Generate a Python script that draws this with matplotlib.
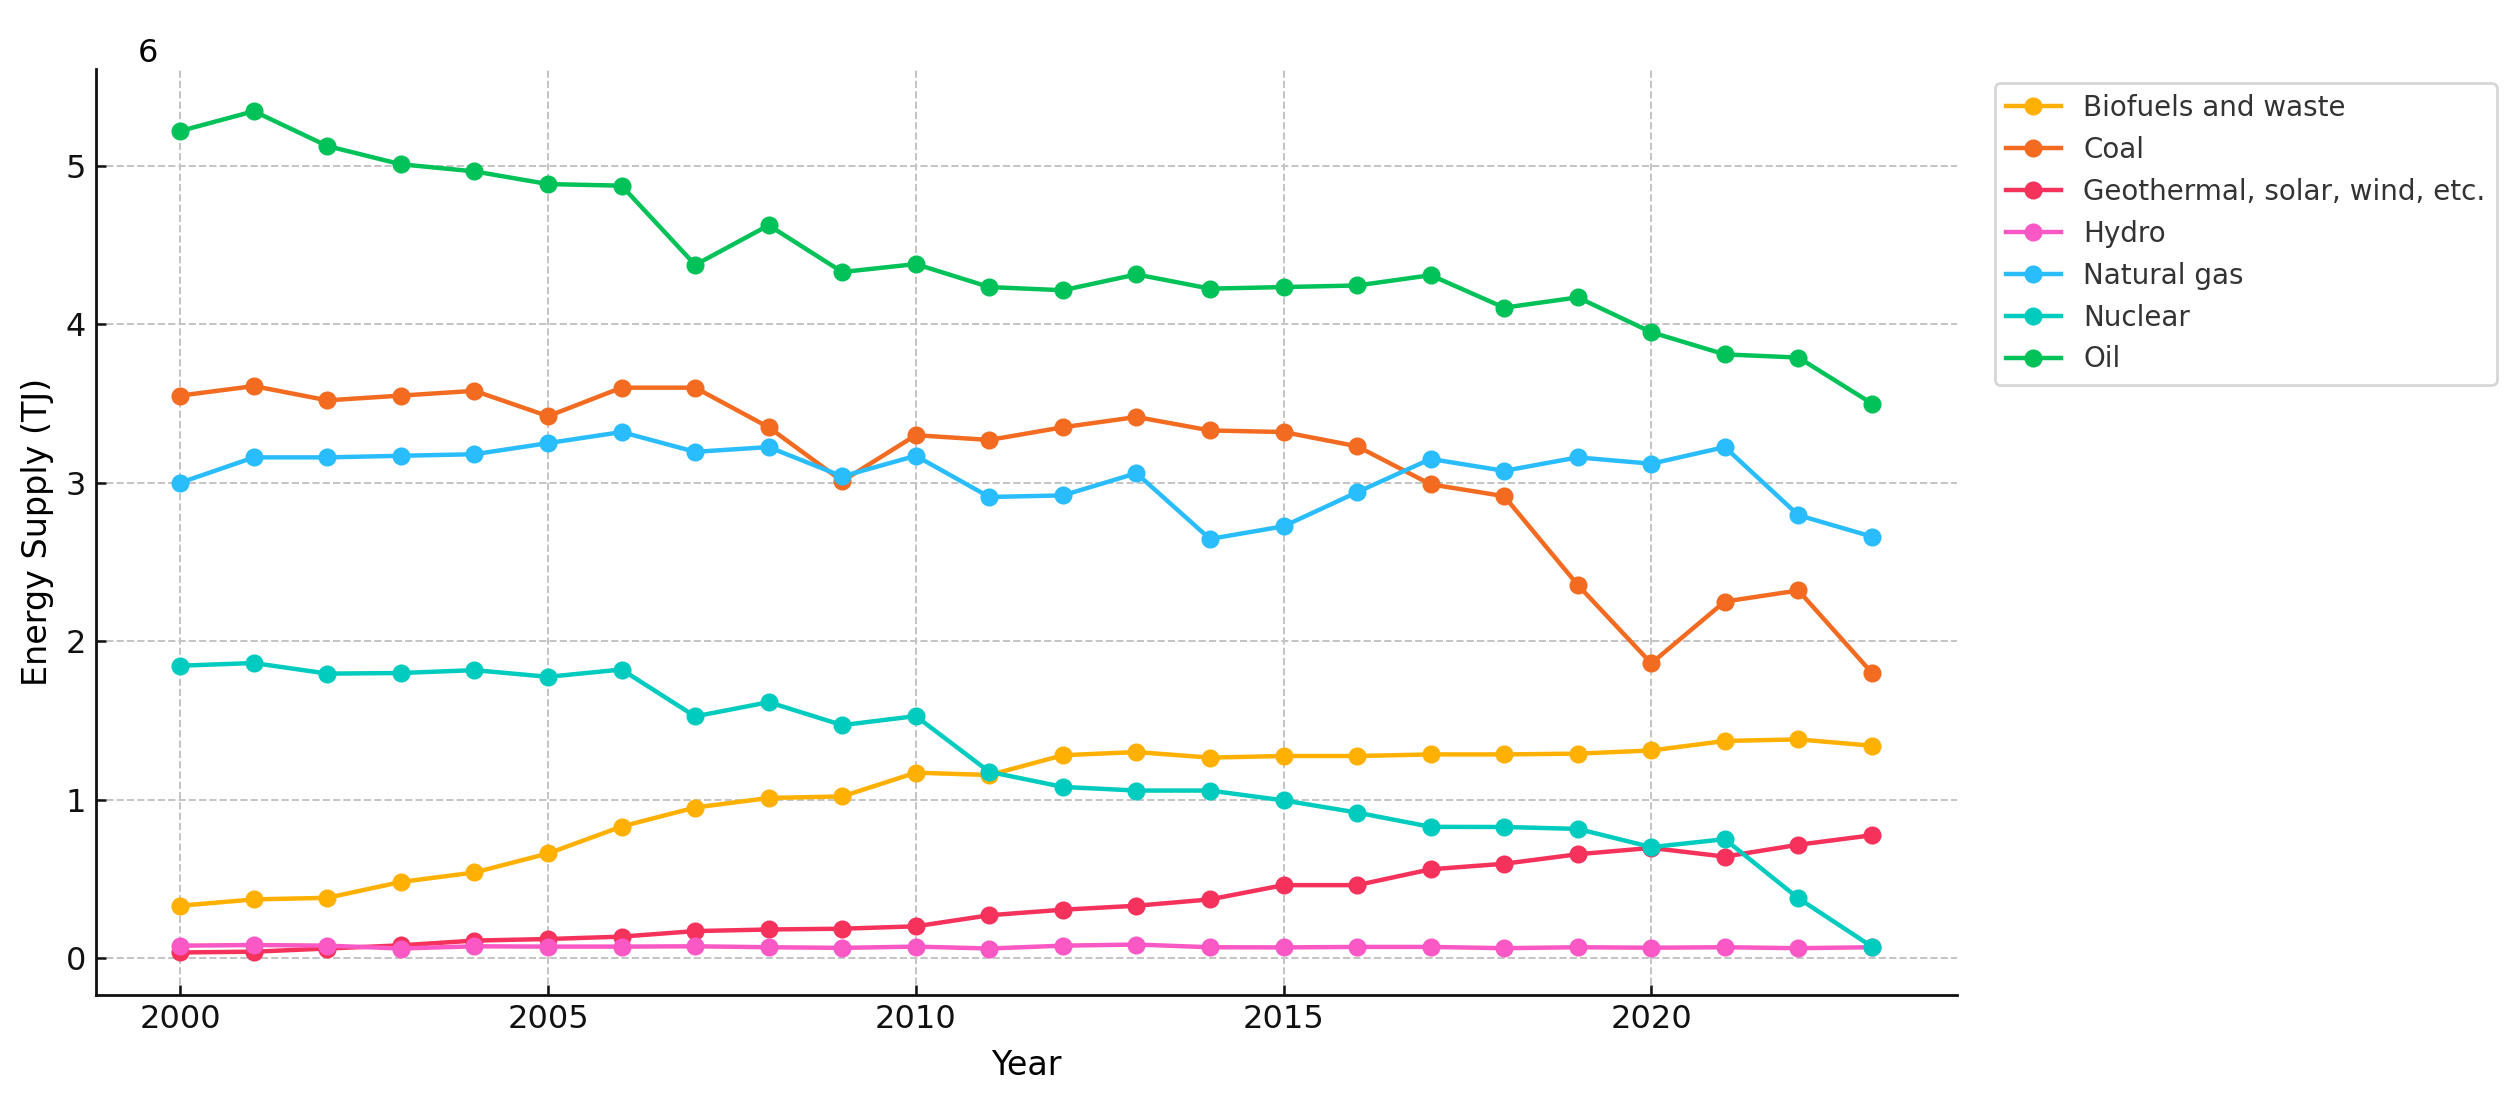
import matplotlib
matplotlib.use("Agg")
import matplotlib.pyplot as plt

years = list(range(2000, 2024))

biofuels = [0.33, 0.37, 0.38, 0.48, 0.54, 0.66, 0.83, 0.95, 1.01, 1.02, 1.17, 1.155,
            1.28, 1.30, 1.265, 1.275, 1.275, 1.285, 1.285, 1.29, 1.31, 1.37, 1.38, 1.34]
coal = [3.55, 3.61, 3.52, 3.55, 3.58, 3.42, 3.60, 3.60, 3.35, 3.01, 3.30, 3.27,
        3.35, 3.415, 3.33, 3.32, 3.23, 2.99, 2.915, 2.355, 1.86, 2.25, 2.32, 1.80]
geothermal = [0.035, 0.04, 0.06, 0.08, 0.11, 0.12, 0.135, 0.17, 0.18, 0.185, 0.20, 0.27,
              0.305, 0.33, 0.37, 0.46, 0.46, 0.56, 0.595, 0.655, 0.695, 0.64, 0.715, 0.775]
hydro = [0.078, 0.082, 0.078, 0.06, 0.074, 0.072, 0.072, 0.074, 0.068, 0.064, 0.072, 0.06,
         0.078, 0.085, 0.068, 0.067, 0.07, 0.07, 0.062, 0.068, 0.065, 0.068, 0.062, 0.068]
natural_gas = [3.00, 3.16, 3.16, 3.17, 3.18, 3.25, 3.32, 3.195, 3.225, 3.04, 3.17, 2.91,
               2.92, 3.06, 2.645, 2.725, 2.94, 3.15, 3.075, 3.16, 3.12, 3.225, 2.795, 2.66]
nuclear = [1.845, 1.862, 1.795, 1.799, 1.817, 1.775, 1.821, 1.525, 1.615, 1.47, 1.527, 1.175,
           1.08, 1.057, 1.057, 0.995, 0.918, 0.828, 0.827, 0.815, 0.70, 0.75, 0.377, 0.072]
oil = [5.22, 5.345, 5.125, 5.01, 4.965, 4.885, 4.875, 4.375, 4.625, 4.33, 4.38, 4.235,
       4.215, 4.315, 4.225, 4.235, 4.245, 4.31, 4.105, 4.17, 3.95, 3.81, 3.79, 3.50]

labels = ["Biofuels and waste", "Coal", "Geothermal, solar, wind, etc.", "Hydro",
          "Natural gas", "Nuclear", "Oil"]
series = [biofuels, coal, geothermal, hydro, natural_gas, nuclear, oil]
colors = ["#FFB000", "#F26B21", "#F5325B", "#F958C5", "#29BDFD", "#00CBBF", "#01C159"]

plt.rcParams['font.family'] = ['DejaVu Sans']

fig = plt.figure(figsize=(2519 / 200, 1101 / 200), dpi=200)
ax = fig.add_axes([0.038, 0.0967, 0.7387, 0.8405])

for vals, lab, col in zip(series, labels, colors):
    ax.plot(years, vals, marker='o', color=col, label=lab, linewidth=1.6, markersize=5.5)

ax.set_xticks([2000, 2005, 2010, 2015, 2020])
ax.set_yticks([0, 1, 2, 3, 4, 5])
ax.tick_params(direction='in', length=3.5, width=0.9, labelsize=11.5, colors='#111111')
ax.grid(True, linestyle='--', color='#c4c4c4', linewidth=0.7)
ax.set_axisbelow(True)
for s in ['top', 'right']:
    ax.spines[s].set_visible(False)
for s in ['left', 'bottom']:
    ax.spines[s].set_linewidth(1.0)
    ax.spines[s].set_color('#111111')

ax.set_xlabel("Year", fontsize=12, labelpad=5)
ax.set_ylabel("Energy Supply (TJ)", fontsize=12, labelpad=4)
ax.text(0.028, 1.008, "6", transform=ax.transAxes, fontsize=11.5, ha='center', va='baseline')

leg = ax.legend(loc='upper left', bbox_to_anchor=(1.013, 1.0), fontsize=10, frameon=True)
for t in leg.get_texts():
    t.set_color('#333333')

fig.savefig("out.png", dpi=200)
